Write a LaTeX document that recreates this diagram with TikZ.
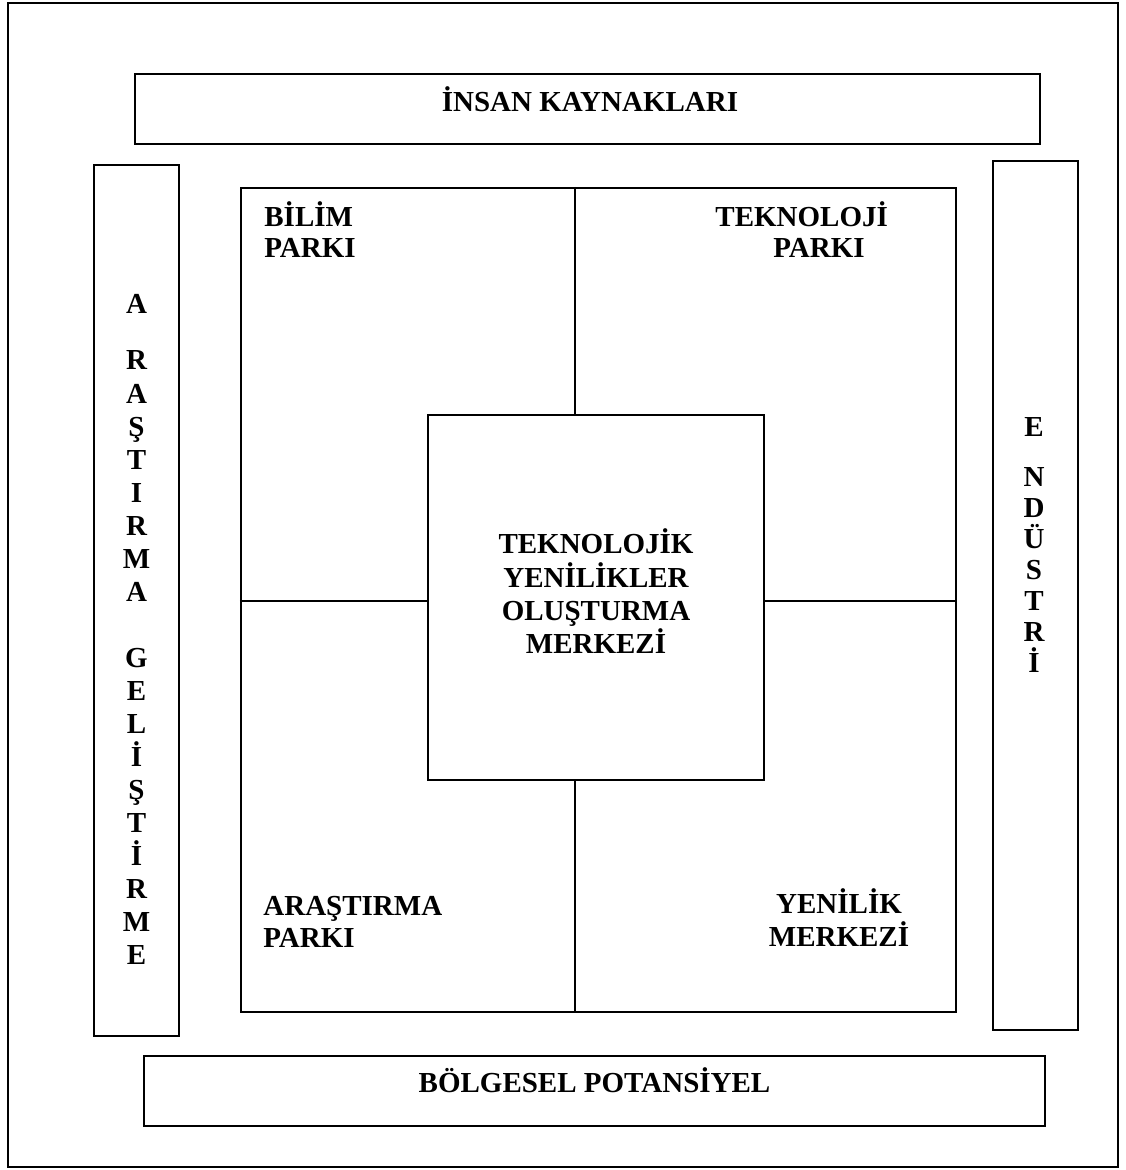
\documentclass[tikz,border=0pt]{standalone}
\usepackage{fontspec}
\setmainfont{Liberation Serif}
\usetikzlibrary{fit}
\tikzset{
  box/.style={draw, line width=1.1pt, inner sep=0pt},
  lab/.style={font=\fontsize{14.5}{16.5}\selectfont\bfseries, inner sep=0pt, anchor=base},
  divider/.style={line width=0.8pt},
}
\begin{document}
\begin{tikzpicture}[x=0.5pt,y=-0.5pt]
\useasboundingbox (0,0) rectangle (1125,1170);
% boxes
\node[box, line width=1pt, fit={(8,3) (1118,1167)}] (frame) {};
\node[box, fit={(135,74) (1040,144)}] (hr) {};
\node[box, fit={(94,165) (179,1036)}] (rd) {};
\node[box, fit={(993,161) (1078,1030)}] (ind) {};
\node[box, fit={(144,1056) (1045,1126)}] (bp) {};
\node[box, fit={(241,188) (956,1012)}] (grid) {};
\node[box, fit={(428,415) (764,780)}] (tc) {};
% dividers
\coordinate (cross) at (575,601);
\draw[divider] (cross |- grid.north) -- (cross |- tc.north);
\draw[divider] (cross |- tc.south) -- (cross |- grid.south);
\draw[divider] (cross -| grid.west) -- (cross -| tc.west);
\draw[divider] (cross -| tc.east) -- (cross -| grid.east);
% horizontal labels
\node[lab] (hrt) at (590,112) {İNSAN KAYNAKLARI};
\node[lab] (bpt) at (594.5,1092) {BÖLGESEL POTANSİYEL};
\node[lab, anchor=base west] (b1) at (264,227) {BİLİM};
\node[lab, anchor=base west] (b2) at (264,258) {PARKI};
\node[lab, anchor=base west] (t1) at (715,227) {TEKNOLOJİ};
\node[lab, anchor=base west] (t2) at (773,258) {PARKI};
\node[lab, anchor=base west] (a1) at (263,915) {ARAŞTIRMA};
\node[lab, anchor=base west] (a2) at (263,947) {PARKI};
\node[lab] (y1) at (839,913) {YENİLİK};
\node[lab] (y2) at (839,946) {MERKEZİ};
\node[lab] (c1) at (596,553) {TEKNOLOJİK};
\node[lab] (c2) at (596,587) {YENİLİKLER};
\node[lab] (c3) at (596,620) {OLUŞTURMA};
\node[lab] (c4) at (596,653) {MERKEZİ};
% vertical labels
\foreach \l/\y [count=\i] in {A/314, R/370, A/403, Ş/436, T/469, I/502, R/535, M/568, A/601,
  G/667, E/700, L/733, İ/766, Ş/799, T/832, İ/865, R/898, M/931, E/964}
  \node[lab] (ag\i) at (136.5,\y) {\l};
\foreach \l/\y [count=\i] in {E/437, N/486, D/517, Ü/548, S/579, T/610, R/641, İ/672}
  \node[lab] (en\i) at (1034,\y) {\l};
\end{tikzpicture}
\end{document}
